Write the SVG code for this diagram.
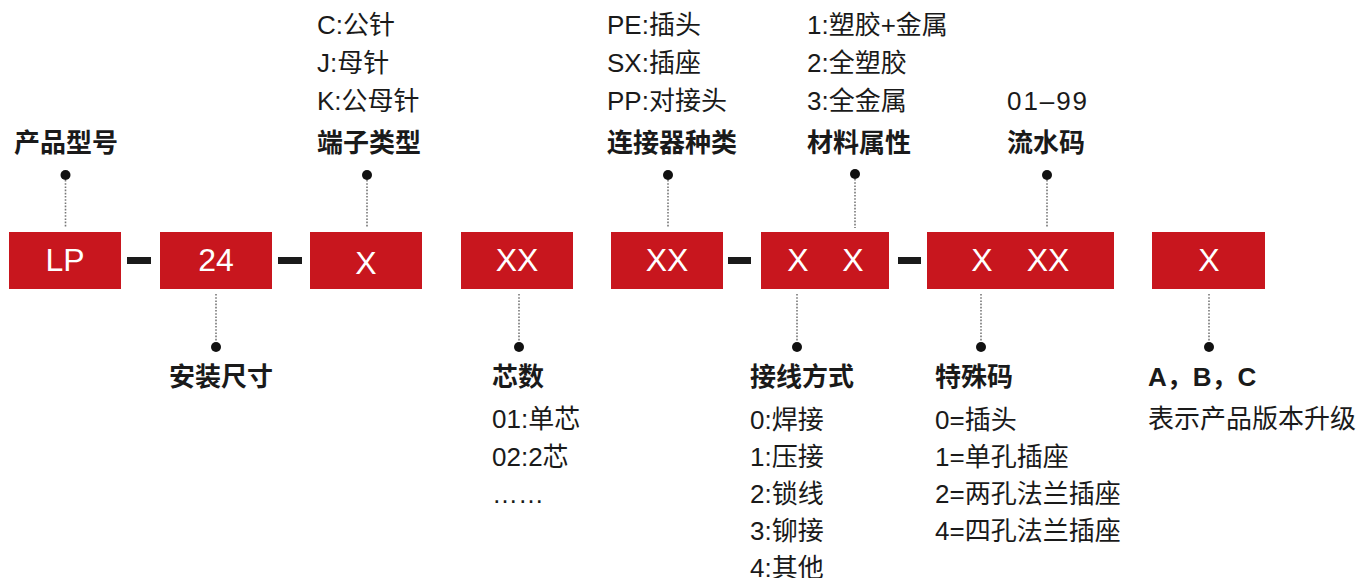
<svg xmlns="http://www.w3.org/2000/svg" width="1362" height="578" viewBox="0 0 1362 578">
<style>
.box{fill:#C8161E}
.bt{fill:#fff;font-family:"Liberation Sans","Noto Sans CJK SC",sans-serif;font-size:32px;text-anchor:middle}
.t{fill:#1a1a1a;font-family:"Liberation Sans","Noto Sans CJK SC",sans-serif;font-size:26px}
.h{fill:#1a1a1a;font-family:"Liberation Sans","Noto Sans CJK SC",sans-serif;font-size:26px;font-weight:bold}
.dash{fill:#1a1a1a}
.lead{stroke:#777;stroke-width:1.6;stroke-dasharray:1.6 1.6;fill:none}
.dot{fill:#111}
</style>
<rect width="1362" height="578" fill="#fff"/>
<g id="connectors">
<rect class="dash" x="127" y="257" width="24" height="7"/>
<rect class="dash" x="278" y="257" width="24" height="7"/>
<rect class="dash" x="728" y="257" width="23" height="7"/>
<rect class="dash" x="898" y="257" width="23" height="7"/>
<line class="lead" x1="65.5" y1="180" x2="65.5" y2="228"/>
<circle class="dot" cx="65.5" cy="175" r="5"/>
<line class="lead" x1="367" y1="180" x2="367" y2="228"/>
<circle class="dot" cx="367" cy="175" r="5"/>
<line class="lead" x1="668" y1="180" x2="668" y2="228"/>
<circle class="dot" cx="668" cy="175" r="5"/>
<line class="lead" x1="855" y1="179" x2="855" y2="228"/>
<circle class="dot" cx="855" cy="174" r="5"/>
<line class="lead" x1="1047" y1="180" x2="1047" y2="228"/>
<circle class="dot" cx="1047" cy="175" r="5"/>
<line class="lead" x1="216" y1="294" x2="216" y2="342"/>
<circle class="dot" cx="216" cy="347" r="5"/>
<line class="lead" x1="519" y1="294" x2="519" y2="342"/>
<circle class="dot" cx="519" cy="347" r="5"/>
<line class="lead" x1="797" y1="294" x2="797" y2="342"/>
<circle class="dot" cx="797" cy="347" r="5"/>
<line class="lead" x1="981" y1="294" x2="981" y2="342"/>
<circle class="dot" cx="981" cy="347" r="5"/>
<line class="lead" x1="1209" y1="294" x2="1209" y2="342"/>
<circle class="dot" cx="1209" cy="347" r="5"/>
</g>
<g id="box-lp"><rect class="box" x="9" y="232" width="112" height="57"/><text class="bt" x="65" y="271">LP</text></g>
<g id="box-24"><rect class="box" x="160" y="232" width="112" height="57"/><text class="bt" x="216" y="271">24</text></g>
<g id="box-x1"><rect class="box" x="310" y="232" width="112" height="57"/><text class="bt" x="366" y="274">X</text></g>
<g id="box-xx1"><rect class="box" x="461" y="232" width="112" height="57"/><text class="bt" x="517" y="271">XX</text></g>
<g id="box-xx2"><rect class="box" x="611" y="232" width="112" height="57"/><text class="bt" x="667" y="271">XX</text></g>
<g id="box-xx3"><rect class="box" x="761" y="232" width="128" height="57"/><text class="bt" x="798" y="271">X</text><text class="bt" x="853" y="271">X</text></g>
<g id="box-xxx"><rect class="box" x="927" y="232" width="187" height="57"/><text class="bt" x="982" y="271">X</text><text class="bt" x="1048" y="271">XX</text></g>
<g id="box-x2"><rect class="box" x="1152" y="232" width="113" height="57"/><text class="bt" x="1209" y="271">X</text></g>
<g id="label-model"><text class="h" x="14" y="152">产品型号</text></g>
<g id="label-terminal">
<text class="t" x="317" y="34">C:公针</text>
<text class="t" x="317" y="72">J:母针</text>
<text class="t" x="317" y="110">K:公母针</text>
<text class="h" x="317" y="152">端子类型</text>
</g>
<g id="label-connector">
<text class="t" x="607" y="34">PE:插头</text>
<text class="t" x="607" y="72">SX:插座</text>
<text class="t" x="607" y="110">PP:对接头</text>
<text class="h" x="607" y="152">连接器种类</text>
</g>
<g id="label-material">
<text class="t" x="807" y="34">1:塑胶+金属</text>
<text class="t" x="807" y="72">2:全塑胶</text>
<text class="t" x="807" y="110">3:全金属</text>
<text class="h" x="807" y="152">材料属性</text>
</g>
<g id="label-serial">
<text class="t" x="1007" y="110" textLength="80">01–99</text>
<text class="h" x="1007" y="152">流水码</text>
</g>
<g id="label-size"><text class="h" x="169" y="386">安装尺寸</text></g>
<g id="label-cores">
<text class="h" x="492" y="386">芯数</text>
<text class="t" x="492" y="428">01:单芯</text>
<text class="t" x="492" y="466">02:2芯</text>
<text class="t" x="492" y="503">……</text>
</g>
<g id="label-wiring">
<text class="h" x="750" y="386">接线方式</text>
<text class="t" x="750" y="429">0:焊接</text>
<text class="t" x="750" y="466">1:压接</text>
<text class="t" x="750" y="503">2:锁线</text>
<text class="t" x="750" y="540">3:铆接</text>
<text class="t" x="750" y="577">4:其他</text>
</g>
<g id="label-special">
<text class="h" x="935" y="386">特殊码</text>
<text class="t" x="935" y="429">0=插头</text>
<text class="t" x="935" y="466">1=单孔插座</text>
<text class="t" x="935" y="503">2=两孔法兰插座</text>
<text class="t" x="935" y="540">4=四孔法兰插座</text>
</g>
<g id="label-version">
<text class="h" x="1148" y="386">A，B，C</text>
<text class="t" x="1148" y="428">表示产品版本升级</text>
</g>
</svg>
